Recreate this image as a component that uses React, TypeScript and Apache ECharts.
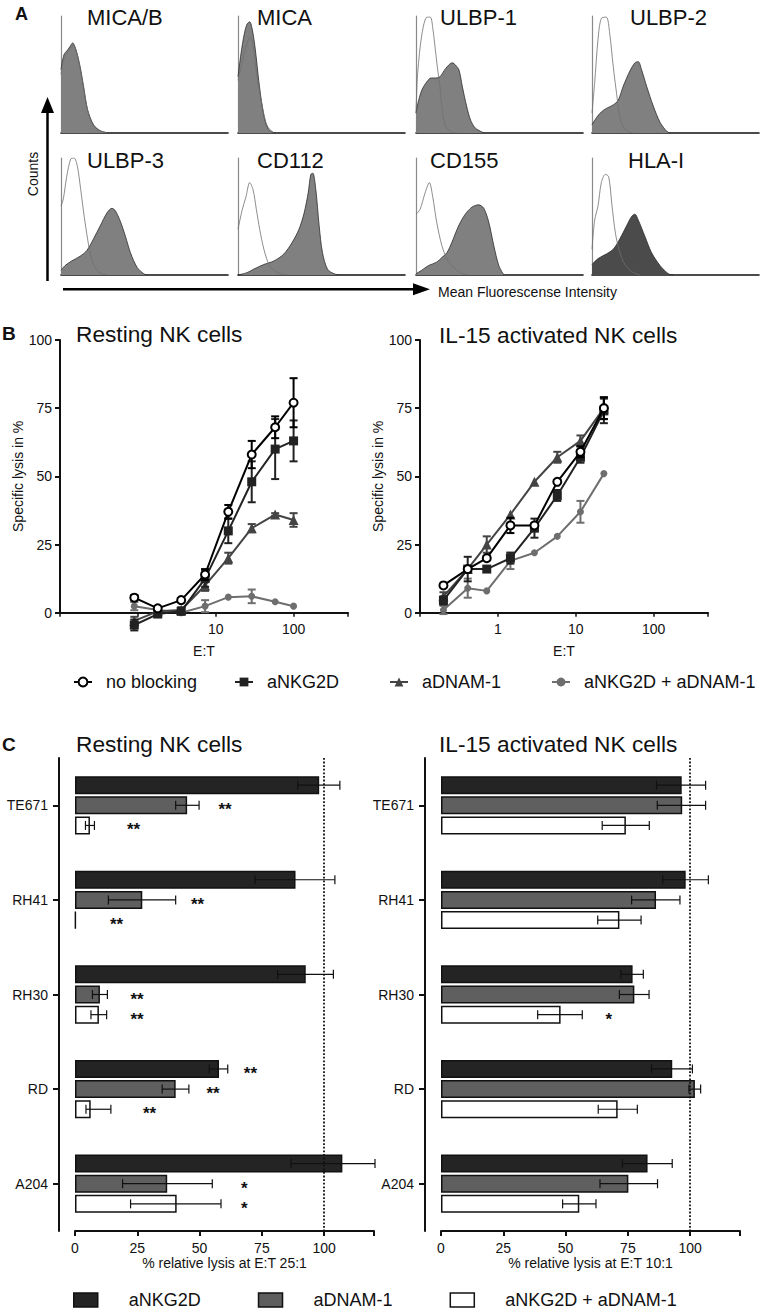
import React, { useEffect, useRef } from "react";
import * as echarts from "echarts";

const FONT = '"Liberation Sans", Arial, Helvetica, sans-serif';

// ---------------- Panel A: flow cytometry histograms ([MFI channel %, counts %]) ----------------
const histTitles = ["MICA/B", "MICA", "ULBP-1", "ULBP-2", "ULBP-3", "CD112", "CD155", "HLA-I"];

const micabFilled = [[0, 54], [1.8, 67], [4, 71], [5.4, 74], [7, 77], [9, 71], [11.4, 57], [13.5, 40], [15.9, 20], [19.5, 7], [23.5, 2], [28.5, 0]];
const micabIso = [[0, 50], [1.4, 62], [3.5, 68], [5.5, 72], [7.3, 75], [9.3, 69], [11.5, 55], [13.5, 39], [16, 19], [19.5, 6], [23.5, 1.5], [28.5, 0]];
const micaFilled = [[0, 48], [1.8, 68], [3.8, 85], [5.4, 93], [7, 95], [8.6, 88], [10.4, 71], [12.4, 45], [14.5, 23], [16.5, 9], [19, 2], [22.5, 0]];
const micaIso = [[0, 45], [2.4, 60], [5.4, 77], [7.4, 82], [9.4, 71], [11.4, 48], [14.5, 23], [17.5, 6], [21.5, 0]];
const ulbp1Filled = [[0, 17], [1.6, 28], [3.6, 37], [6.6, 44], [9, 47], [11.6, 47], [14.3, 48], [17.7, 55], [21.7, 60], [23.7, 58], [25.7, 54], [27.7, 40], [30.3, 23], [32.7, 11], [35.7, 4], [40.8, 0]];
const ulbp1Iso = [[0, 17], [1, 51], [3.6, 85], [6.6, 99], [8.6, 99], [10.2, 88], [11.6, 71], [13, 54], [14.3, 40], [15.7, 20], [17.7, 6], [21.7, 0.5], [24.7, 0]];
const ulbp2Filled = [[0, 7], [2.6, 13], [5.6, 18], [8.6, 21], [12.7, 24], [15.7, 28], [18.7, 40], [22.7, 53], [25.7, 60], [27.7, 61], [29.7, 54], [32.7, 40], [36.7, 23], [40.8, 9], [44.8, 1.4], [46.8, 0]];
const ulbp2Iso = [[0, 17], [1.6, 43], [3.6, 80], [5.6, 98], [8.6, 99], [10.6, 85], [12.7, 57], [14.7, 34], [16.7, 14], [19.7, 3], [24.7, 0]];
const ulbp3Filled = [[0, 4], [2.4, 8], [6.4, 12], [11.4, 16], [15.5, 21], [19.5, 31], [23.5, 42], [27.5, 53], [30.5, 57], [32.5, 55], [35.5, 46], [38.6, 33], [41.6, 19], [45.6, 6.5], [49.6, 1], [51.6, 0]];
const ulbp3Iso = [[0, 59], [1.4, 65], [3.4, 84], [5.8, 99], [7.8, 100], [9.8, 93], [11.8, 73], [13.9, 50], [15.9, 31], [17.9, 16], [20.5, 6.5], [23.5, 1.4], [27.5, 0]];
const cd112Filled = [[0, 0], [5.4, 2], [9.4, 5], [15.5, 9], [21.5, 12], [27.5, 18], [32.5, 28], [36.5, 39], [39.6, 53], [42, 70], [43.6, 86], [44.8, 87], [46.6, 73], [48.6, 42], [50.6, 19], [53.6, 5], [57.6, 1], [60.6, 0]];
const cd112Iso = [[0, 39], [2.4, 55], [4.8, 67], [7, 79], [9, 73], [11, 56], [13, 39], [15.5, 22], [18.5, 9], [21.5, 4], [25.5, 1], [29.5, 0]];
const cd155Filled = [[0, 1], [3.4, 4], [7.4, 8], [12.4, 11], [15.5, 15], [18.5, 19], [21.5, 28], [25.5, 42], [29.5, 52], [33.5, 58], [37.5, 60], [40.6, 57], [43.6, 45], [46.6, 25], [49.6, 8], [52.6, 0]];
const cd155Iso = [[0, 52], [2.4, 56], [5.4, 70], [8, 79], [10, 67], [12.4, 45], [15.5, 25], [18.5, 14], [22.5, 6.5], [27.5, 1.4], [31.5, 0]];
const hlaFilled = [[0, 9], [3.6, 14], [8.6, 18], [12.7, 22], [16.7, 31], [20.7, 42], [23.7, 50], [25.7, 52], [27.7, 47], [31.7, 33], [35.7, 19], [40.8, 8], [45.8, 1], [48.8, 0]];
const hlaIso = [[0, 22], [1.6, 47], [3.6, 59], [5.6, 79], [8, 86], [10, 84], [12, 59], [14, 36], [16.7, 19], [19.7, 9], [23.7, 3], [28.7, 0]];

const histFilled = [micabFilled, micaFilled, ulbp1Filled, ulbp2Filled, ulbp3Filled, cd112Filled, cd155Filled, hlaFilled];
const histIso = [micabIso, micaIso, ulbp1Iso, ulbp2Iso, ulbp3Iso, cd112Iso, cd155Iso, hlaIso];

// ---------------- Panel B: specific lysis vs E:T ----------------
const groupNames = ["no blocking", "aNKG2D", "aDNAM-1", "aNKG2D + aDNAM-1"];
const etResting = [0.9, 1.8, 3.6, 7.3, 14.5, 29, 58, 100];
const etIL15 = [0.2, 0.41, 0.72, 1.45, 2.95, 5.8, 11.5, 23];

const restNoBlock = [5.5, 1.6, 4.6, 14, 37, 58, 68, 77];
const restNoBlockSem = [1, 0, 0, 2, 2.5, 5, 4, 9];
const restNKG2D = [-4.5, -0.5, 0.5, 12.5, 30, 48, 60, 63];
const restNKG2DSem = [2, 1, 1, 3, 4.5, 7.5, 11, 7.5];
const restDNAM = [-3, 0.5, 1, 10, 20, 31, 36, 34];
const restDNAMSem = [1.5, 0, 1, 2, 2, 1.5, 0.5, 2.5];
const restCombo = [2.4, 1, 0, 2.4, 5.7, 6, 4, 2.4];
const restComboSem = [1.5, 0, 0, 2.2, 0, 2.5, 0, 0];

const il15NoBlock = [10, 16, 20, 32, 32, 48, 59, 75];
const il15NoBlockSem = [0, 0, 0, 2.8, 0, 0, 2, 4];
const il15NKG2D = [4.5, 16, 16, 20, 31, 43, 57, 74];
const il15NKG2DSem = [1.5, 4.5, 0, 2, 3.5, 2, 2, 4.5];
const il15DNAM = [6, 16, 25, 36, 48, 57, 63, 75];
const il15DNAMSem = [1.5, 0, 3, 0, 0, 2, 2, 4];
const il15Combo = [1, 9, 8, 19, 22, 28, 37, 51];
const il15ComboSem = [1.5, 3.5, 0, 3, 0, 0, 4, 0];

// ---------------- Panel C: relative lysis per cell line ----------------
const cellLines = ["TE671", "RH41", "RH30", "RD", "A204"];
const barNames = ["aNKG2D", "aDNAM-1", "aNKG2D + aDNAM-1"];

const cRestNKG2D = [98, 88.5, 92.6, 57.8, 107.3];
const cRestNKG2DLo = [89.4, 72.2, 81.3, 53.9, 86.7];
const cRestNKG2DHi = [106.3, 104.3, 103.7, 61.3, 120.4];
const cRestDNAM = [45, 27, 10, 40.4, 37];
const cRestDNAMLo = [40.4, 13.4, 7, 35, 19.1];
const cRestDNAMHi = [49.8, 40.4, 13, 45.7, 55.1];
const cRestCombo = [6, 0.3, 9.6, 6.3, 40.8];
const cRestComboLo = [4.2, 0.3, 6.4, 4.4, 22.3];
const cRestComboHi = [7.8, 0.3, 12.7, 14.4, 58.6];

const cIL15NKG2D = [96.6, 98.2, 76.9, 92.8, 82.9];
const cIL15NKG2DLo = [86.5, 89, 72.2, 84.5, 72.8];
const cIL15NKG2DHi = [106.2, 107.3, 81.2, 100.9, 92.8];
const cIL15DNAM = [96.8, 86.3, 77.6, 101.9, 75.2];
const cIL15DNAMLo = [86.8, 76.5, 71.6, 99.5, 63.8];
const cIL15DNAMHi = [106.2, 95.9, 83.5, 104.2, 86.9];
const cIL15Combo = [74.2, 71.6, 48, 70.9, 55.5];
const cIL15ComboLo = [64.7, 62.9, 38.8, 63.1, 48.8];
const cIL15ComboHi = [83.6, 80.3, 56.7, 78.8, 62.2];

// significance marks: [cell line index, bar index, value position, mark]
const restingStars: [number, number, number, string][] = [
  [0, 1, 60.2, "**"], [0, 2, 23.5, "**"],
  [1, 1, 49.2, "**"], [1, 2, 16.7, "**"],
  [2, 1, 24.9, "**"], [2, 2, 24.9, "**"],
  [3, 0, 70.4, "**"], [3, 1, 55.4, "**"], [3, 2, 29.9, "**"],
  [4, 1, 68, "*"], [4, 2, 68, "*"],
];
const il15Stars: [number, number, number, string][] = [[2, 2, 67.3, "*"]];

// ---------------- helpers ----------------
const BAR_W = 18;
const BAR_GAP = 0.12;
const BAR_STEP = BAR_W * (1 + BAR_GAP);

const lineSpecs = [
  { symbol: "circle", size: 8, fill: "#ffffff", stroke: "#000000", color: "#000000", z: 6 },
  { symbol: "rect", size: 9, fill: "#222222", stroke: "#222222", color: "#222222", z: 5 },
  { symbol: "triangle", size: 10, fill: "#444444", stroke: "#444444", color: "#444444", z: 4 },
  { symbol: "circle", size: 7, fill: "#6e6e6e", stroke: "#6e6e6e", color: "#6e6e6e", z: 3 },
];
const barColors = ["#242424", "#5f5f5f", "#ffffff"];

function txt(text: string, x: number, y: number, size: number, opts: any = {}) {
  const align = opts.align || "left";
  return {
    type: "text",
    x,
    y,
    rotation: opts.rot || 0,
    silent: true,
    style: {
      text,
      font: `${opts.bold ? "bold " : ""}${size}px ${FONT}`,
      fill: "#111111",
      textAlign: align,
      align,
      textVerticalAlign: "middle",
      verticalAlign: "middle",
    },
  };
}

function errV(color: string) {
  return (params: any, api: any) => {
    const x = api.value(0), y = api.value(1), e = api.value(2);
    if (!e) return { type: "group", children: [] };
    const t = api.coord([x, y + e]);
    const b = api.coord([x, y - e]);
    const w = 4;
    const st = { stroke: color, lineWidth: 2 };
    return {
      type: "group",
      children: [
        { type: "line", shape: { x1: t[0], y1: t[1], x2: b[0], y2: b[1] }, style: st },
        { type: "line", shape: { x1: t[0] - w, y1: t[1], x2: t[0] + w, y2: t[1] }, style: st },
        { type: "line", shape: { x1: b[0] - w, y1: b[1], x2: b[0] + w, y2: b[1] }, style: st },
      ],
    };
  };
}

function errH(params: any, api: any) {
  const lo = api.value(0), hi = api.value(1), cat = api.value(2), k = api.value(3);
  if (hi - lo < 0.01) return { type: "group", children: [] };
  const a = api.coord([lo, cat]);
  const b = api.coord([hi, cat]);
  const y = a[1] + (k - 1) * BAR_STEP;
  const h = 4.5;
  const st = { stroke: "#111111", lineWidth: 1.2 };
  return {
    type: "group",
    children: [
      { type: "line", shape: { x1: a[0], y1: y, x2: b[0], y2: y }, style: st },
      { type: "line", shape: { x1: a[0], y1: y - h, x2: a[0], y2: y + h }, style: st },
      { type: "line", shape: { x1: b[0], y1: y - h, x2: b[0], y2: y + h }, style: st },
    ],
  };
}

function buildOption() {
  const grid: any[] = [];
  const xAxis: any[] = [];
  const yAxis: any[] = [];
  const series: any[] = [];

  // ----- Panel A -----
  const histLefts = [61, 238, 416, 592];
  const histTops = [16, 158];
  for (let i = 0; i < 8; i++) {
    const col = i % 4;
    const row = Math.floor(i / 4);
    grid.push({ left: histLefts[col], top: histTops[row], width: 167, height: 117 });
    xAxis.push({
      gridIndex: i, type: "value", min: 0, max: 100,
      axisLine: { show: true, onZero: false, lineStyle: { color: "#111", width: 1.6 } },
      axisTick: { show: false }, axisLabel: { show: false }, splitLine: { show: false },
    });
    yAxis.push({
      gridIndex: i, type: "value", min: 0, max: 100,
      axisLine: { show: true, onZero: false, lineStyle: { color: "#8a8a8a", width: 1.2 } },
      axisTick: { show: false }, axisLabel: { show: false }, splitLine: { show: false },
    });
    series.push({
      type: "line", xAxisIndex: i, yAxisIndex: i, data: histFilled[i], symbol: "none",
      smooth: 0.3, silent: true, z: 2,
      lineStyle: { color: "#2b2b2b", width: 0.8 },
      areaStyle: { color: i === 7 ? "#4b4b4b" : "#808080", opacity: 1 },
    });
    series.push({
      type: "line", xAxisIndex: i, yAxisIndex: i, data: histIso[i], symbol: "none",
      smooth: 0.3, silent: true, z: 3,
      lineStyle: { color: "#707070", width: 0.8 },
    });
  }

  // ----- Panel B -----
  const bLefts = [60, 420];
  const bSets = [
    { xs: etResting, vals: [restNoBlock, restNKG2D, restDNAM, restCombo], sems: [restNoBlockSem, restNKG2DSem, restDNAMSem, restComboSem], minLabel: 10 },
    { xs: etIL15, vals: [il15NoBlock, il15NKG2D, il15DNAM, il15Combo], sems: [il15NoBlockSem, il15NKG2DSem, il15DNAMSem, il15ComboSem], minLabel: 1 },
  ];
  bSets.forEach((set, b) => {
    const gi = 8 + b;
    grid.push({ left: bLefts[b], top: 340, width: 288, height: 272.7 });
    xAxis.push({
      gridIndex: gi, type: "log", logBase: 10, min: 0.1, max: 500,
      name: "E:T", nameLocation: "middle", nameGap: 31,
      nameTextStyle: { fontSize: 14, color: "#111", fontFamily: FONT },
      axisLine: { show: true, onZero: false, lineStyle: { color: "#111", width: 2 } },
      axisTick: { show: true, length: 4, lineStyle: { color: "#111", width: 1.5 } },
      minorTick: { show: false },
      axisLabel: {
        fontSize: 14, color: "#111", fontFamily: FONT, margin: 9,
        formatter: (v: number) => {
          const l = Math.log10(v);
          if (Math.abs(l - Math.round(l)) > 1e-6) return "";
          if (v < set.minLabel - 1e-9 || v > 100.001) return "";
          return String(Math.round(v));
        },
      },
      splitLine: { show: false },
    });
    yAxis.push({
      gridIndex: gi, type: "value", min: 0, max: 100, interval: 25,
      name: "Specific lysis in %", nameLocation: "middle", nameGap: 25, nameRotate: 90,
      nameTextStyle: { fontSize: 14, color: "#111", fontFamily: FONT },
      axisLine: { show: true, onZero: false, lineStyle: { color: "#111", width: 2 } },
      axisTick: { show: true, length: 5, lineStyle: { color: "#111", width: 2 } },
      axisLabel: { fontSize: 14, color: "#111", fontFamily: FONT, margin: 8 },
      splitLine: { show: false },
    });
    [3, 2, 1, 0].forEach((k) => {
      const sp = lineSpecs[k];
      series.push({
        type: "line", name: groupNames[k], xAxisIndex: gi, yAxisIndex: gi,
        data: set.xs.map((x, j) => [x, set.vals[k][j]]),
        symbol: sp.symbol, symbolSize: sp.size, showSymbol: true, clip: false, silent: true, z: sp.z,
        itemStyle: { color: sp.fill, borderColor: sp.stroke, borderWidth: k === 0 ? 2 : 0, opacity: 1 },
        lineStyle: { color: sp.color, width: 2 },
      });
      series.push({
        type: "custom", xAxisIndex: gi, yAxisIndex: gi, silent: true, clip: false, z: sp.z,
        data: set.xs.map((x, j) => [x, set.vals[k][j], set.sems[k][j]]),
        renderItem: errV(sp.color),
      });
    });
  });

  // ----- Panel C -----
  const cLefts = [75, 441];
  const cSets = [
    {
      means: [cRestNKG2D, cRestDNAM, cRestCombo], los: [cRestNKG2DLo, cRestDNAMLo, cRestComboLo], his: [cRestNKG2DHi, cRestDNAMHi, cRestComboHi],
      stars: restingStars, name: "% relative lysis at E:T 25:1",
    },
    {
      means: [cIL15NKG2D, cIL15DNAM, cIL15Combo], los: [cIL15NKG2DLo, cIL15DNAMLo, cIL15ComboLo], his: [cIL15NKG2DHi, cIL15DNAMHi, cIL15ComboHi],
      stars: il15Stars, name: "% relative lysis at E:T 10:1",
    },
  ];
  cSets.forEach((set, c) => {
    const gi = 10 + c;
    grid.push({ left: cLefts[c], top: 758, width: 299, height: 473 });
    xAxis.push({
      gridIndex: gi, type: "value", min: 0, max: 120, interval: 25,
      name: set.name, nameLocation: "middle", nameGap: 24,
      nameTextStyle: { fontSize: 14, color: "#111", fontFamily: FONT },
      axisLine: { show: true, onZero: false, lineStyle: { color: "#111", width: 2 } },
      axisTick: { show: true, length: 5, lineStyle: { color: "#111", width: 2 } },
      axisLabel: { fontSize: 14, color: "#111", fontFamily: FONT, margin: 10, formatter: (v: number) => (v > 100 ? "" : String(v)) },
      splitLine: { show: false },
    });
    yAxis.push({
      gridIndex: gi, type: "category", data: cellLines, inverse: true, offset: 16,
      axisLine: { show: true, onZero: false, lineStyle: { color: "#111", width: 2 } },
      axisTick: { show: true, alignWithLabel: true, length: 6, lineStyle: { color: "#111", width: 2 } },
      axisLabel: { fontSize: 14, color: "#111", fontFamily: FONT, margin: 11 },
      splitLine: { show: false },
    });
    set.means.forEach((m, k) => {
      series.push({
        type: "bar", name: barNames[k], xAxisIndex: gi, yAxisIndex: gi, data: m,
        barWidth: BAR_W, barGap: `${BAR_GAP * 100}%`, silent: true, z: 2,
        itemStyle: { color: barColors[k], borderColor: "#111", borderWidth: 1.5 },
        markLine: k === 0 ? {
          silent: true, symbol: ["none", "none"], label: { show: false },
          lineStyle: { type: "dotted", color: "#111", width: 1.8 },
          data: [{ xAxis: 100 }],
        } : undefined,
      });
    });
    const errData: number[][] = [];
    for (let k = 0; k < 3; k++) {
      for (let j = 0; j < cellLines.length; j++) errData.push([set.los[k][j], set.his[k][j], j, k]);
    }
    series.push({
      type: "custom", xAxisIndex: gi, yAxisIndex: gi, silent: true, clip: false, z: 4,
      dimensions: ["lo", "hi", "cat", "bar"], encode: { x: ["lo", "hi"], y: "cat" },
      data: errData, renderItem: errH,
    });
    const stars = set.stars;
    series.push({
      type: "custom", xAxisIndex: gi, yAxisIndex: gi, silent: true, clip: false, z: 5,
      dimensions: ["pos", "cat", "bar"], encode: { x: "pos", y: "cat" },
      data: stars.map((s) => [s[2], s[0], s[1]]),
      renderItem: (params: any, api: any) => {
        const p = api.coord([api.value(0), api.value(1)]);
        const k = api.value(2);
        return {
          type: "text", x: p[0], y: p[1] + (k - 1) * BAR_STEP + 4.5,
          style: {
            text: stars[params.dataIndex][3], font: `bold 17px ${FONT}`, fill: "#111",
            textAlign: "center", align: "center", textVerticalAlign: "middle", verticalAlign: "middle",
          },
        };
      },
    });
  });

  // ----- legends -----
  const bLegendLefts = [73, 234, 389, 551];
  const legend: any[] = groupNames.map((n, k) => ({
    data: [n], left: bLegendLefts[k], top: 673, padding: 0, itemWidth: 18, itemHeight: 11, selectedMode: false,
    textStyle: { fontSize: 18, color: "#111", fontFamily: FONT, padding: [0, 0, 0, 9] },
  }));
  legend.push({
    data: barNames.map((n, k) => ({ name: n, icon: "rect", itemStyle: { color: barColors[k], borderColor: "#111", borderWidth: 1.5 } })),
    left: 73, top: 1291, padding: 0, itemWidth: 24, itemHeight: 14, itemGap: 57, selectedMode: false,
    textStyle: { fontSize: 18, color: "#111", fontFamily: FONT, padding: [0, 0, 0, 26] },
  });

  // ----- graphic annotations -----
  const titleX = [87, 257, 440, 630, 87, 257, 430, 628];
  const titleY = [17, 17, 17, 17, 160, 160, 160, 160];
  const graphic: any[] = [
    txt("A", 15, 14, 18, { bold: true }),
    ...histTitles.map((t, i) => txt(t, titleX[i], titleY[i], 22)),
    txt("Counts", 33, 174, 14, { rot: Math.PI / 2, align: "center" }),
    { type: "line", silent: true, shape: { x1: 47.5, y1: 281, x2: 47.5, y2: 110 }, style: { stroke: "#000", lineWidth: 2.5 } },
    { type: "polygon", silent: true, shape: { points: [[47.5, 97], [41, 113], [54, 113]] }, style: { fill: "#000" } },
    { type: "line", silent: true, shape: { x1: 63, y1: 289.3, x2: 416, y2: 289.3 }, style: { stroke: "#000", lineWidth: 2.5 } },
    { type: "polygon", silent: true, shape: { points: [[430, 289.3], [413, 283.3], [413, 295.3]] }, style: { fill: "#000" } },
    txt("Mean Fluorescense Intensity", 438, 292, 14),
    txt("B", 2, 333, 19, { bold: true }),
    txt("Resting NK cells", 76, 334, 22.7),
    txt("IL-15 activated NK cells", 439, 335, 22.7),
    txt("C", 2, 744, 19, { bold: true }),
    txt("Resting NK cells", 76, 744, 22.7),
    txt("IL-15 activated NK cells", 439, 744, 22.7),
  ];

  return {
    animation: false,
    backgroundColor: "#ffffff",
    textStyle: { fontFamily: FONT },
    grid, xAxis, yAxis, series, legend, graphic,
  };
}

export default function App() {
  const ref = useRef<HTMLDivElement>(null);
  useEffect(() => {
    if (!ref.current) return;
    const chart = echarts.init(ref.current, null, { renderer: "svg" });
    chart.setOption(buildOption() as any);
    return () => chart.dispose();
  }, []);
  return (
    <div
      ref={ref}
      style={{ position: "absolute", left: 0, top: 0, width: 767, height: 1312, background: "#fff" }}
    />
  );
}
